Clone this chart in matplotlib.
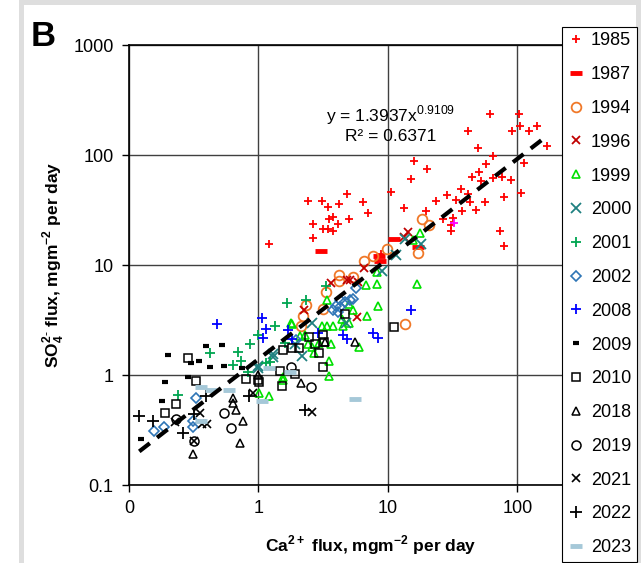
import matplotlib
matplotlib.use("Agg")
import matplotlib.pyplot as plt
from matplotlib.patches import Rectangle
import numpy as np

plt.rcParams['font.family'] = ['Liberation Sans', 'DejaVu Sans']
plt.rcParams['mathtext.fontset'] = 'custom'
plt.rcParams['mathtext.rm'] = 'Liberation Sans'
plt.rcParams['mathtext.bf'] = 'Liberation Sans:bold'

# Ca2+ flux (x) and SO4 2- flux (y), mg m-2 per day
ca_1985 = [1.2, 2.4, 3.08, 3.42, 4.2, 4.83, 6.46, 7.05, 5.0, 4.13, 3.76, 3.48, 2.64, 3.17, 3.43,
           3.76, 2.64, 10.5, 13.3, 19.6, 15.9, 19.9, 15.1, 23.5, 28.6, 36.6, 33.7, 41.7, 42.7, 37.5,
           47.9, 56.4, 26.8, 31.8, 30.8, 30.8, 44.5, 50.4, 52.2, 57.4, 64.3, 49.5, 41.2, 61, 102,
           91.2, 104.5, 123, 142, 170, 64.7, 75.9, 88.6, 78.7, 106, 112, 73.6, 78.7, 8.83]
so4_1985 = [15.5, 38, 38, 34, 35.6, 44.5, 37.6, 29.9, 26.3, 23.7, 27.5, 26.3, 23.6, 21.1, 21.1,
            20.2, 17.7, 45.8, 32.8, 30.8, 88.8, 74, 60, 38.4, 43.6, 49.4, 39.2, 44.5, 37.4, 31,
            31.6, 37.6, 26.2, 26.6, 23, 20.2, 63.5, 70, 58.4, 83.4, 97.7, 116, 166, 236, 236,
            164, 184, 166, 184, 121, 61.8, 63.5, 59.3, 41.2, 45.2, 85.2, 20.2, 15, 12.5]

ca_1987 = [3.02, 11.1, 8.67, 8.55, 17.1]
so4_1987 = [13.4, 17.2, 10.9, 12.0, 14.5]

ca_1994 = [18.3, 20.8, 17.1, 9.88, 7.7, 6.53, 4.16, 5.4, 4.2, 3.35, 3.13, 2.31, 2.2, 2.14, 13.5]
so4_1994 = [26, 23.2, 12.9, 13.9, 12.2, 10.8, 8.06, 7.83, 7.2, 5.69, 4.0, 4.36, 3.42, 2.79, 2.91]

ca_1996 = [14.2, 13.4, 6.51, 4.8, 5.1, 3.63, 2.25, 5.77, 5.83]
so4_1996 = [19.8, 18.1, 9.46, 7.26, 7.26, 6.9, 3.9, 3.39, 7.05]

ca_1999 = [6.74, 8.18, 3.4, 5.03, 5.4, 6.84, 8.4, 16.7, 5.97, 3.52, 3.52, 1.8, 3.08, 3.4, 3.76,
           4.52, 5.0, 4.4, 2.28, 2.43, 2.59, 2.66, 3.62, 1.55, 1.2, 1.01, 2.09, 2.95, 17.7, 15.7,
           8.2, 1.78, 1.55]
so4_1999 = [6.58, 6.68, 4.78, 4.45, 3.9, 3.46, 4.24, 6.68, 1.81, 1.33, 0.98, 2.89, 2.8, 2.79, 2.79,
            2.79, 3.0, 3.25, 2.3, 1.91, 1.81, 1.57, 1.91, 0.9, 0.65, 0.68, 2.26, 1.94, 19.7, 16.9,
            8.7, 2.95, 0.96]

ca_2000 = [11.5, 8.94, 13.6, 4.74, 2.57, 1.92, 2.15, 1.29, 0.99, 18.1, 1.0, 1.29]
so4_2000 = [12.4, 8.82, 17.2, 2.99, 2.99, 1.91, 1.49, 1.47, 1.21, 15.5, 1.15, 1.55]

ca_2001 = [3.34, 2.33, 1.65, 1.35, 1.0, 0.86, 0.7, 0.73, 0.63, 0.42, 0.83, 0.24, 1.6, 1.23, 1.14]
so4_2001 = [6.44, 4.81, 4.49, 2.77, 2.31, 1.9, 1.63, 1.33, 1.23, 1.57, 1.07, 0.66, 1.94, 1.32, 1.28]

ca_2002 = [5.66, 5.1, 5.4, 4.66, 4.26, 3.98, 4.26, 3.77, 4.1, 0.33, 0.157, 0.185, 0.31, 0.31, 1.94]
so4_2002 = [6.14, 4.81, 4.88, 4.64, 4.81, 4.24, 4.12, 3.9, 3.76, 0.62, 0.31, 0.34, 0.385, 0.34, 2.08]

ca_2008 = [15.1, 1.06, 1.14, 1.09, 1.68, 1.81, 2.9, 4.47, 4.8, 7.7, 8.3, 0.475]
so4_2008 = [3.87, 3.32, 2.62, 2.16, 2.56, 2.14, 2.39, 2.31, 2.11, 2.39, 2.16, 2.89]

ca_2009 = [0.2, 0.39, 0.52, 0.35, 0.42, 0.54, 0.75, 0.285, 0.19, 0.18, 0.124, 0.3]
so4_2009 = [1.52, 1.84, 1.87, 1.35, 1.17, 1.22, 1.15, 0.95, 0.87, 0.58, 0.26, 1.28]

ca_2010 = [0.283, 0.33, 0.23, 0.19, 0.8, 1.0, 4.63, 11.2, 2.45, 3.13, 3.22, 2.75, 2.95, 2.05, 1.8,
           1.55, 3.13, 1.91, 1.47, 1.51, 1.01]
so4_2010 = [1.43, 0.88, 0.54, 0.45, 0.92, 0.9, 3.56, 2.71, 2.23, 2.31, 2.01, 1.91, 1.6, 1.76, 1.77,
            1.7, 1.19, 1.02, 1.09, 0.8, 0.86]

ca_2018 = [0.63, 0.64, 0.67, 0.76, 0.72, 0.31, 1.0, 2.12, 3.27, 5.54]
so4_2018 = [0.62, 0.56, 0.48, 0.385, 0.24, 0.19, 1.0, 0.84, 2.01, 2.01]

ca_2019 = [0.54, 0.61, 0.23, 0.32, 1.78, 2.53]
so4_2019 = [0.45, 0.33, 0.4, 0.25, 1.17, 0.78]

ca_2021 = [0.226, 0.353, 0.364, 0.4, 0.32, 0.91, 2.59]
so4_2021 = [0.376, 0.45, 0.36, 0.36, 0.25, 0.68, 0.46]

ca_2022 = [0.12, 0.154, 0.26, 0.32, 0.39, 0.85, 2.29]
so4_2022 = [0.42, 0.385, 0.295, 0.44, 0.64, 0.65, 0.48]

ca_2023 = [0.36, 0.43, 0.59, 1.21, 1.06, 0.36, 1.75, 5.57]
so4_2023 = [0.77, 0.73, 0.73, 1.15, 0.58, 0.385, 1.07, 0.61]

# single unlabelled magenta point among the 1985 cluster
ca_extra = [32.3]
so4_extra = [23.9]

# power-law trendline
fit_a = 1.3937
fit_b = 0.9109
fit_r2 = 0.6371

series = [
    ('1985', ca_1985, so4_1985, dict(marker='+', color='#ff0000', ms=6, mew=1.3)),
    ('1987', ca_1987, so4_1987, dict(marker='_', color='#ff0000', ms=8.5, mew=3.5)),
    ('1994', ca_1994, so4_1994, dict(marker='o', color='#f07828', mfc='none', ms=7, mew=1.3)),
    ('1996', ca_1996, so4_1996, dict(marker='x', color='#c00000', ms=6, mew=1.3)),
    ('1999', ca_1999, so4_1999, dict(marker='^', color='#00e000', mfc='none', ms=6.3, mew=1.2)),
    ('2000', ca_2000, so4_2000, dict(marker='x', color='#1f8080', ms=7, mew=1.3)),
    ('2001', ca_2001, so4_2001, dict(marker='+', color='#00a550', ms=7.5, mew=1.3)),
    ('2002', ca_2002, so4_2002, dict(marker='D', color='#2e75b6', mfc='none', ms=5, mew=1.2)),
    ('2008', ca_2008, so4_2008, dict(marker='+', color='#0000ff', ms=7.5, mew=1.3)),
    ('2009', ca_2009, so4_2009, dict(marker='_', color='black', ms=5, mew=3)),
    ('2010', ca_2010, so4_2010, dict(marker='s', color='black', mfc='none', ms=6.3, mew=1.1)),
    ('2018', ca_2018, so4_2018, dict(marker='^', color='black', mfc='none', ms=6, mew=1.1)),
    ('2019', ca_2019, so4_2019, dict(marker='o', color='black', mfc='none', ms=6.5, mew=1.1)),
    ('2021', ca_2021, so4_2021, dict(marker='x', color='black', ms=5.5, mew=1.2)),
    ('2022', ca_2022, so4_2022, dict(marker='+', color='black', ms=9, mew=1.3)),
    ('2023', ca_2023, so4_2023, dict(marker='_', color='#a5c8d8', ms=9, mew=3.5)),
]

W, H = 641, 563
fig = plt.figure(figsize=(W / 100, H / 100), dpi=100, facecolor='white')

# grey scan border
for x0, y0, w, h in [(19, 0, 5, H), (636, 0, 5, H), (19, H - 5, W - 19, 5)]:
    fig.patches.append(Rectangle((x0 / W, y0 / H), w / W, h / H, transform=fig.transFigure,
                                 facecolor='#dedede', edgecolor='none', zorder=0))

ax = fig.add_axes([129 / W, 78 / H, (590 - 129) / W, (485 - 45) / H])
ax.set_xscale('log')
ax.set_yscale('log')
ax.set_xlim(0.1, 363)
ax.set_ylim(0.1, 1000)

ax.set_xticks([0.1, 1, 10, 100])
ax.set_xticklabels(['0', '1', '10', '100'])
ax.set_yticks([0.1, 1, 10, 100, 1000])
ax.set_yticklabels(['0.1', '1', '10', '100', '1000'])
ax.minorticks_off()
ax.tick_params(axis='both', labelsize=13, length=5, width=1, direction='out', pad=6)
ax.grid(True, color='#404040', lw=1)
ax.set_axisbelow(True)
for s in ['left', 'bottom', 'top']:
    ax.spines[s].set_color('black')
    ax.spines[s].set_linewidth(1.2)
ax.spines['right'].set_visible(False)

handles = []
for label, xs, ys, st in series:
    h, = ax.plot(xs, ys, ls='none', label=label, zorder=3, **st)
    handles.append(h)
ax.plot(ca_extra, so4_extra, ls='none', marker='+', color='#ff00ff', ms=6, mew=1.3, zorder=3)

xfit = np.logspace(np.log10(0.12), np.log10(163), 100)
ax.plot(xfit, fit_a * xfit ** fit_b, color='black', lw=3, ls=(0, (3.2, 2.2)), zorder=4)

ax.text(391 / W, 1 - 115 / H, r'y = %.4fx$^{%.4f}$' % (fit_a, fit_b), transform=fig.transFigure,
        ha='center', va='center', fontsize=12.5)
ax.text(391 / W, 1 - 136 / H, 'R² = %.4f' % fit_r2, transform=fig.transFigure,
        ha='center', va='center', fontsize=12.5)

ax.set_ylabel(r'SO$_\mathbf{4}^\mathbf{2\text{-}}$ flux, mgm$^\mathbf{-2}$ per day',
              fontsize=12.5, fontweight='bold', labelpad=5)
fig.text(371 / W, 1 - 545 / H, r'Ca$^\mathbf{2+}$ flux, mgm$^\mathbf{-2}$ per day',
         ha='center', va='center', fontsize=12.5, fontweight='bold')
fig.text(43 / W, 1 - 37 / H, 'B', ha='center', va='center', fontsize=25, fontweight='bold')

leg = fig.legend(handles=handles, loc='upper left', bbox_to_anchor=(562 / W, 1 - 27 / H),
                 frameon=True, fancybox=False, edgecolor='black', framealpha=1, fontsize=13,
                 borderpad=0.3, labelspacing=0.93, handlelength=0.9, handletextpad=0.4,
                 borderaxespad=0)
leg.get_frame().set_linewidth(0.8)

fig.savefig('out.png', dpi=100, facecolor='white')
